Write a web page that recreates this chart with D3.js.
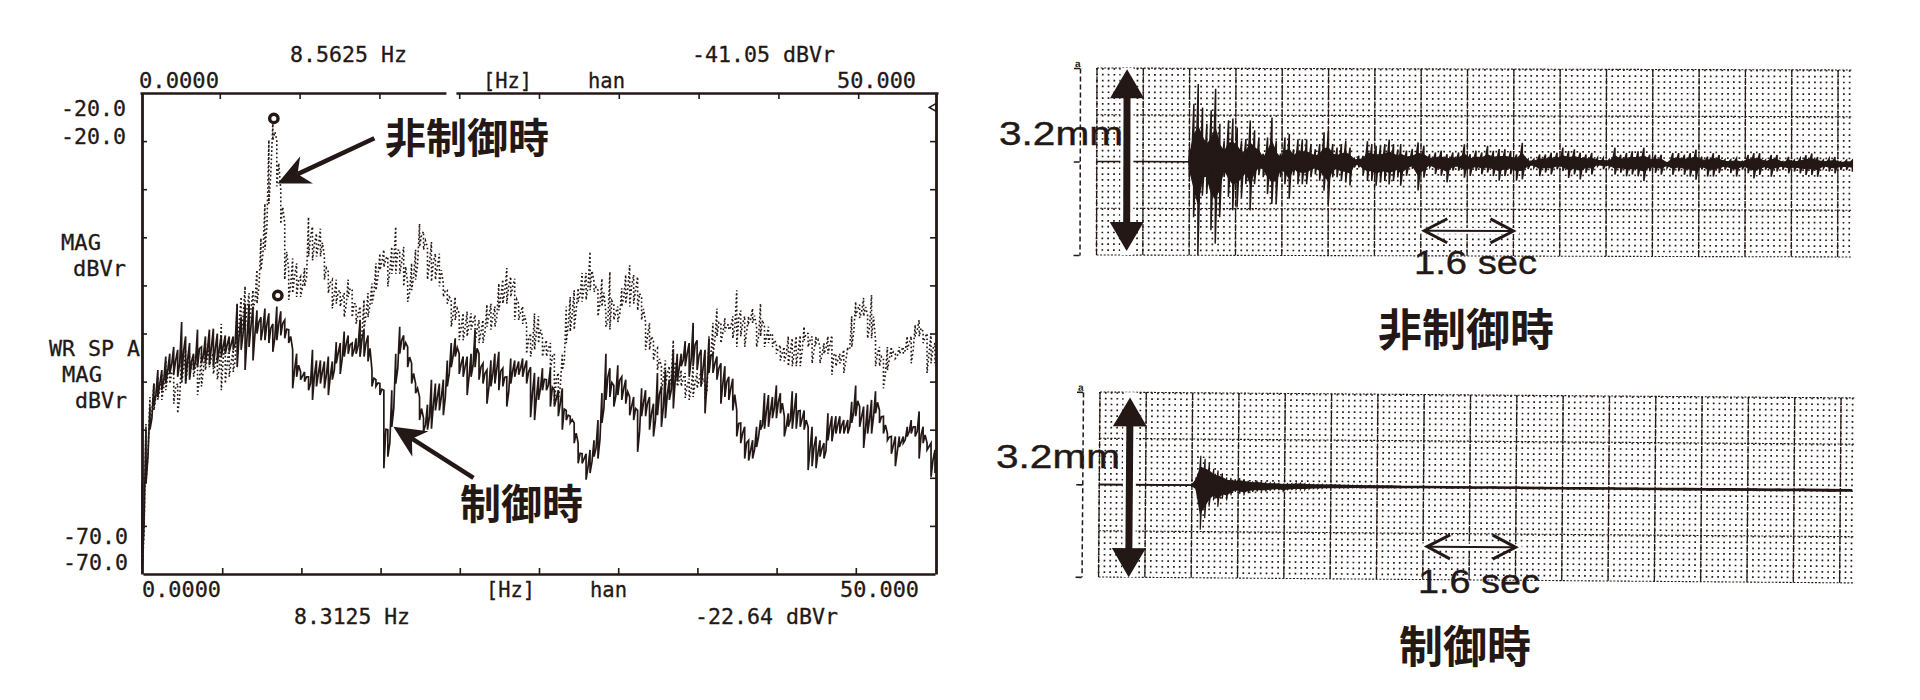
<!DOCTYPE html>
<html><head><meta charset="utf-8">
<script src="https://cdn.jsdelivr.net/npm/d3@7/dist/d3.min.js"></script>
<style>
html,body{margin:0;padding:0;background:#fff;overflow:hidden}
svg{display:block}
.plot{font-family:"DejaVu Sans Mono",monospace;font-size:22px;fill:#231815;stroke:#231815;stroke-width:.3}
.jp{font-family:"Noto Sans CJK JP",sans-serif;font-weight:700;fill:#231815}
.lat{font-family:"Liberation Sans",Arial,sans-serif;fill:#231815;stroke:#231815;stroke-width:.4}
</style></head><body>
<svg id="c" width="1920" height="700"></svg>
<script>
// ---------- spectrum (frequency Hz, magnitude dBVr); columns every 0.25 Hz, high/low per column
const spectrumStepHz = 0.25;
const uncontrolledHigh = [-62,-54.4,-51.6,-50.2,-49.5,-49.2,-47.8,-48.1,-48.8,-50.2,-47.1,-46.7,-47.1,-47.4,-48.1,-47.1,-46.0,-46.4,-47.1,-47.4,-44.0,-46.0,-46.4,-46.7,-41.9,-41.2,-40.1,-40.8,-40.5,-38.4,-35.1,-31.5,-24.9,-23.2,-24.9,-30.1,-33.6,-38.4,-37.2,-37.7,-39.1,-38.2,-32.9,-33.9,-34.6,-34.1,-37.0,-38.6,-39.4,-39.4,-40.5,-40.8,-39.4,-40.5,-41.9,-42.2,-41.5,-40.8,-39.8,-37.7,-36.7,-36.3,-37.0,-36.0,-33.9,-36.3,-36.0,-39.8,-37.7,-36.3,-33.6,-34.4,-36.0,-35.5,-36.7,-36.7,-39.8,-40.5,-41.5,-41.2,-42.9,-42.9,-42.7,-42.9,-43.1,-43.6,-43.6,-42.0,-41.9,-42.2,-39.8,-39.4,-38.2,-39.1,-39.3,-41.9,-42.2,-44.1,-45.0,
-42.9,-43.2,-45.3,-45.7,-46.0,-47.1,-49.1,-47.1,-42.2,-41.2,-40.5,-40.3,-38.7,-38.7,-36.5,-39.6,-40.5,-39.3,-42.9,-38.6,-42.0,-42.2,-40.3,-38.9,-37.9,-38.9,-39.1,-41.3,-43.8,-43.9,-45.7,-46.5,-48.4,-47.8,-48.4,-45.7,-49.1,-48.8,-49.1,-49.7,-48.4,-49.1,-48.8,-50.2,-45.3,-43.9,-42.4,-43.9,-43.4,-44.1,-43.2,-40.5,-42.6,-43.2,-43.2,-42.4,-44.3,-41.9,-44.3,-44.3,-45.0,-46.0,-46.2,-46.4,-45.3,-45.5,-45.3,-45.2,-44.3,-45.0,-45.3,-45.3,-46.4,-46.0,-45.3,-45.2,-47.1,-47.1,-46.7,-46.4,-43.2,-41.7,-42.0,-41.3,-43.1,-41.0,-45.7,-46.4,-47.6,-46.4,-46.4,-47.1,-46.4,-46.4,-45.3,-45.3,-44.1,-43.6,-44.8,-45.0,-45.0,-46.0];
const uncontrolledLow = [-70,-60.6,-54.7,-53.0,-51.9,-51.9,-50.9,-50.2,-52.3,-53.3,-50.2,-50.2,-49.5,-49.5,-51.4,-50.5,-48.8,-48.5,-49.2,-49.8,-50.9,-50.2,-49.5,-49.0,-46.0,-45.3,-44.6,-44.0,-42.6,-41.9,-38.4,-36.3,-31.5,-24.9,-29.7,-33.6,-39.4,-41.5,-40.8,-41.2,-41.2,-40.1,-37.0,-37.4,-37.0,-37.0,-39.4,-40.8,-42.4,-41.9,-42.2,-43.3,-41.2,-43.3,-44.0,-47.4,-44.6,-43.3,-41.9,-40.5,-38.4,-38.1,-40.1,-38.8,-38.8,-38.8,-40.1,-41.7,-40.5,-39.4,-36.0,-36.3,-39.4,-39.6,-39.4,-40.1,-41.2,-41.9,-44.3,-43.6,-45.7,-45.7,-45.3,-44.6,-46.0,-46.0,-46.0,-44.3,-44.6,-44.3,-42.6,-41.9,-41.9,-41.2,-43.6,-43.6,-44.0,-47.1,-47.4,
-46.7,-46.0,-47.4,-47.4,-48.8,-52.3,-51.9,-48.8,-46.0,-44.8,-44.6,-41.7,-41.7,-41.5,-40.5,-40.7,-43.2,-42.2,-44.3,-44.6,-43.6,-43.8,-42.2,-41.9,-42.2,-41.9,-42.6,-43.6,-46.7,-46.7,-47.8,-48.8,-50.9,-50.5,-50.5,-50.2,-50.5,-50.5,-51.7,-51.9,-51.6,-50.7,-50.5,-51.9,-48.8,-47.4,-45.3,-46.0,-44.8,-44.6,-45.5,-46.4,-45.3,-46.4,-43.9,-43.9,-46.4,-45.3,-46.4,-46.0,-46.4,-47.1,-47.8,-47.9,-48.4,-48.4,-48.4,-48.4,-45.7,-46.4,-48.1,-46.0,-48.1,-47.1,-47.1,-49.3,-48.4,-48.1,-49.1,-46.7,-46.4,-43.2,-43.4,-43.2,-45.5,-45.5,-48.4,-48.4,-50.7,-48.8,-47.4,-47.6,-47.1,-47.1,-46.7,-48.1,-45.3,-45.3,-46.0,-49.1,-48.1,-48.1];
const controlledHigh = [-60.6,-55.0,-52.6,-50.2,-48.8,-48.8,-47.4,-47.1,-46.4,-46.7,-43.8,-45.3,-46.0,-47.1,-44.6,-46.4,-45.3,-44.6,-44.5,-45.0,-45.2,-45.2,-45.3,-45.3,-41.9,-43.3,-41.9,-41.9,-42.2,-42.6,-43.3,-42.4,-42.9,-44.0,-42.2,-42.7,-43.6,-44.6,-46.7,-47.1,-49.0,-49.0,-49.5,-46.7,-47.8,-47.8,-47.9,-47.4,-47.9,-45.9,-46.0,-44.8,-45.2,-46.0,-45.5,-43.6,-44.6,-45.2,-48.8,-49.8,-50.2,-50.9,-55.0,-50.9,-47.1,-44.3,-45.2,-46.4,-48.1,-50.2,-51.6,-53.8,-52.4,-49.8,-50.2,-50.2,-49.8,-47.8,-46.0,-45.5,-47.1,-47.4,-47.4,-47.1,-44.6,-47.1,-48.1,-48.8,-47.8,-47.1,-46.9,-48.6,-49.5,-47.6,-47.8,-47.9,-47.6,-47.8,-48.5,
-49.1,-49.5,-48.6,-49.8,-48.6,-50.9,-50.9,-50.7,-53.0,-53.6,-54.3,-56.4,-57.5,-57.5,-57.1,-56.1,-54.0,-51.2,-47.1,-48.6,-50.4,-48.3,-49.5,-49.8,-51.6,-51.6,-53.0,-50.7,-50.9,-51.6,-52.3,-49.1,-50.5,-48.8,-49.8,-46.7,-47.1,-47.1,-45.8,-46.0,-43.9,-45.7,-46.7,-46.7,-45.5,-47.1,-47.4,-48.1,-48.4,-49.5,-49.7,-53.0,-54.3,-54.7,-56.1,-56.1,-54.7,-54.0,-51.2,-51.4,-51.6,-50.4,-51.2,-53.6,-53.3,-51.0,-51.2,-53.0,-53.0,-54.7,-54.7,-55.7,-56.1,-56.4,-53.3,-53.6,-53.6,-53.6,-54.0,-54.0,-52.1,-50.4,-52.6,-52.6,-52.4,-51.9,-51.0,-53.0,-53.6,-55.4,-55.7,-55.7,-55.7,-55.7,-54.7,-54.0,-54.7,-53.1,-54.7,-56.4,-56.4,-57.1];
const controlledLow = [-69.5,-60.6,-55.0,-52.6,-51.6,-50.9,-50.2,-49.2,-49.2,-49.5,-49.8,-50.2,-49.8,-48.8,-48.5,-48.1,-48.1,-48.3,-48.5,-48.1,-47.4,-47.1,-46.9,-46.7,-48.5,-46.7,-48.8,-46.4,-47.8,-45.0,-45.7,-45.7,-46.0,-46.9,-45.7,-45.2,-45.5,-46.0,-50.7,-49.5,-49.8,-50.0,-50.9,-51.9,-50.5,-50.2,-50.7,-51.4,-49.8,-48.1,-49.2,-47.4,-47.1,-47.4,-47.1,-47.4,-47.4,-47.9,-50.5,-50.5,-51.4,-59.0,-57.8,-54.7,-50.2,-47.1,-46.7,-48.5,-50.2,-51.2,-54.0,-55.2,-55.0,-54.9,-53.0,-53.0,-53.5,-50.5,-48.5,-47.4,-49.2,-49.5,-51.4,-49.5,-48.5,-49.8,-50.2,-52.3,-50.5,-50.2,-50.9,-50.5,-52.6,-50.2,-49.5,-49.3,-49.5,-50.2,-53.7,
-54.0,-51.9,-50.9,-50.9,-52.6,-52.6,-53.6,-55.0,-54.0,-54.3,-56.4,-58.5,-58.5,-60.2,-59.5,-57.8,-58.0,-54.3,-51.9,-51.6,-52.6,-51.4,-51.9,-52.3,-53.5,-54.0,-57.3,-53.6,-53.6,-55.0,-55.7,-53.5,-54.7,-53.8,-51.9,-52.8,-50.0,-48.4,-48.4,-49.5,-48.4,-48.8,-50.5,-53.3,-49.1,-49.1,-49.8,-52.3,-51.6,-51.9,-53.0,-55.7,-56.4,-58.0,-58.2,-58.0,-56.8,-55.0,-54.9,-54.7,-53.8,-53.8,-53.3,-55.7,-54.7,-54.9,-54.9,-54.7,-55.0,-59.2,-58.8,-59.0,-57.8,-58.0,-56.1,-56.2,-55.4,-55.4,-55.4,-55.4,-54.3,-53.6,-54.7,-56.9,-55.4,-55.4,-53.3,-54.3,-55.4,-56.1,-57.5,-58.8,-56.8,-56.4,-55.7,-55.4,-55.7,-58.0,-56.4,-57.1,-59.9,-59.5];
const peakMarkers = [{hz:8.3125, db:-22.64},{hz:8.5625, db:-41.05}];
const freqTicks = [5,10,15,20,25,30,35,40,45];
const magTicks = [-25,-30,-35,-40,-45,-50,-55,-60,-65];

// ---------- displacement traces (seconds, mm)
const upperOnsetHigh = [.22,.99,1.33,.93,.65,.88,1.25,.65,.36,.71,.74,.59,.36,.39,.71,.54,.42,.14,.42,.76,.36,.14,.42,.48,.22,.39,.39,.39,.31,.22,.31,.51,.54,.31,.25,.31,.36,.25,.08,.11,.11,.36,.31,.28,.28,.31,.39,.31,.22];
const upperOnsetLow = [-.26,-.95,-1.60,-.58,-.55,-1.17,-1.40,-.95,-.26,-.60,-.83,-.78,-.60,-.38,-.83,-.38,-.21,-.26,-.55,-.72,-.72,-.26,-.38,-.63,-.21,-.38,-.38,-.38,-.26,-.21,-.32,-.49,-.72,-.26,-.26,-.32,-.35,-.40,-.09,-.09,-.23,-.32,-.32,-.40,-.35,-.32,-.38,-.32,-.26];
const upperTailHigh = [.31,.2,.23,.34,.285,.14,.17,.2,.14,.17,.17,.31,.14,.2,.17,.285,.2,.23,.23,.2,.14,.34,.057,.057,.14,.14,.17,.17,.26,.2,.23,.17,.14,.17,.085,.085,.057,.26,.14,.17,.2,.2,.26,.14,.14,.14,0,.17,.17,.14,.17,.23,.11,.11,.17,.14,.057,.057,.085,.03,.14,.17,.17,.057,.14,.14,.03,.11,.057,.085,.14,.17,.11,.057,.085,.11,.03,.057,.057];
const upperTailLow = [-.4,-.23,-.11,-.48,-.26,-.085,-.2,-.23,-.34,-.14,-.14,-.26,-.23,-.14,-.2,-.17,-.23,-.31,-.23,-.2,-.31,-.285,-.11,-.085,-.23,-.17,-.2,-.11,-.14,-.26,-.2,-.285,-.17,-.2,-.057,-.11,-.085,-.2,-.17,-.23,-.2,-.23,-.31,-.14,-.17,-.2,-.085,-.2,-.14,-.2,-.23,-.285,-.11,-.23,-.23,-.17,-.11,-.17,-.23,-.11,-.17,-.26,-.2,-.11,-.23,-.14,-.11,-.17,-.14,-.17,-.2,-.2,-.23,-.085,-.14,-.17,-.11,-.11,-.14];
const lowerOnsetHigh = [.01,.14,.51,.46,.40,.285,.26,.21,.14,.13,.11,.13,.11,.085,.074,.085,.07,.057,.05,.05,.04,.03,.04,.04,.05,.05,.04,.035,.03,.03,.03,.025,.03,.025,.025,.02,.025,.02,.02,.02,.015,.02,.015,.015,.015,.015,.015,.01,.01];
const lowerOnsetLow = [-.01,-.085,-.77,-.57,-.37,-.26,-.37,-.23,-.26,-.17,-.11,-.14,-.17,-.13,-.11,-.1,-.1,-.1,-.085,-.074,-.074,-.1,-.074,-.07,-.06,-.06,-.06,-.05,-.04,-.04,-.035,-.03,-.03,-.025,-.03,-.025,-.025,-.02,-.02,-.02,-.02,-.015,-.02,-.015,-.015,-.015,-.015,-.015,-.01];
const lowerTailHigh = [.012,.012,.012,.01,.012,.01,.012,.01,.01,.012,.01,.01,.012,.012,.015,.015,.012,.015,.015,.012];
const lowerTailLow = [-.012,-.012,-.01,-.012,-.01,-.012,-.01,-.012,-.012,-.01,-.012,-.012,-.012,-.015,-.012,-.015,-.015,-.012,-.015,-.015];

const INK = "#231815";
const svg = d3.select("#c");

// ============= spectrum panel
const xData = d3.scaleLinear().domain([0,50]).range([142,935]);
const xTop = d3.scaleLinear().domain([0,50]).range([140,938]);
const xBot = d3.scaleLinear().domain([0,50]).range([143,935]);
const y = d3.scaleLinear().domain([-20,-70]).range([93,574]);

function styleAxis(g, w){
  g.select(".domain").attr("stroke",INK).attr("stroke-width",w);
  g.selectAll(".tick line").attr("stroke",INK).attr("stroke-width",1.6);
  g.selectAll(".tick text").remove();
}
styleAxis(svg.append("g").attr("transform","translate(0,93)").call(d3.axisTop(xTop).tickValues(freqTicks).tickSize(-6).tickSizeOuter(0)),2.6);
styleAxis(svg.append("g").attr("transform","translate(0,574)").call(d3.axisBottom(xBot).tickValues(freqTicks).tickSize(-6).tickSizeOuter(0)),2.6);
styleAxis(svg.append("g").attr("transform","translate(142,0)").call(d3.axisLeft(y).tickValues(magTicks).tickSize(-5).tickSizeOuter(0)),2.8);
styleAxis(svg.append("g").attr("transform","translate(936,0)").call(d3.axisRight(y).tickValues(magTicks).tickSize(-6).tickSizeOuter(0)),2.8);
svg.append("rect").attr("x",xTop(19.2)).attr("y",y(-20)-3).attr("width",10).attr("height",6).attr("fill","#fff");

function zig(high,low,stepHz){
  const pts=[];
  high.forEach((h,i)=>{
    pts.push([i*stepHz,h]); pts.push([i*stepHz,low[i]]);
    pts.push([i*stepHz+stepHz/2,(h+low[i])/2]);
  });
  return pts;
}
const specLine = d3.line().x(d=>xData(d[0])).y(d=>y(d[1]));
svg.append("path").attr("d",specLine(zig(uncontrolledHigh,uncontrolledLow,spectrumStepHz)))
  .attr("fill","none").attr("stroke",INK).attr("stroke-width",1.6).attr("stroke-dasharray","1.7 2.4");
svg.append("path").attr("d",specLine(zig(controlledHigh,controlledLow,spectrumStepHz)))
  .attr("fill","none").attr("stroke",INK).attr("stroke-width",1.7);

svg.selectAll(".peak").data(peakMarkers).join("circle").attr("class","peak")
  .attr("cx",d=>xData(d.hz)).attr("cy",d=>y(d.db)).attr("r",4.2)
  .attr("fill","#fff").attr("stroke",INK).attr("stroke-width",3.4);

const triMark = d3.symbol().type(d3.symbolTriangle).size(28);
svg.append("path").attr("d",triMark()).attr("transform",`translate(${xData(50)-1},${y(-21.5)}) rotate(-90)`).attr("fill","none").attr("stroke",INK).attr("stroke-width",1.6);

const plotTexts = [
 ["8.5625 Hz",290,62,117],["-41.05 dBVr",692,62,143],["0.0000",139,88,80],["[Hz]",483,88,49],["han",588,88,37],["50.000",837,88,79],
 ["-20.0",61,116,65],["-20.0",61,144,65],["MAG",61,250,40],["dBVr",73,276,53],["WR SP A",49,356,91],["MAG",62,382,40],["dBVr",75,408,52],
 ["-70.0",63,544,65],["-70.0",63,570,65],
 ["0.0000",142,597,79],["[Hz]",486,597,49],["han",590,597,37],["50.000",840,597,79],["8.3125 Hz",294,624,116],["-22.64 dBVr",695,624,143]
];
svg.append("g").attr("class","plot").selectAll("text").data(plotTexts).join("text")
  .attr("x",d=>d[1]).attr("y",d=>d[2]).attr("textLength",d=>d[3]).attr("lengthAdjust","spacingAndGlyphs").text(d=>d[0]);

function bigArrow(g,x0,y0,x1,y1,w,hl,hw,notch){
  const a=Math.atan2(y1-y0,x1-x0),c=Math.cos(a),s=Math.sin(a);
  const P=(l,o)=>[x1-l*c-o*s,y1-l*s+o*c];
  g.append("line").attr("x1",x0).attr("y1",y0).attr("x2",P(notch,0)[0]).attr("y2",P(notch,0)[1]).attr("stroke",INK).attr("stroke-width",w);
  g.append("path").attr("d",d3.line()([[x1,y1],P(hl,hw),P(notch,0),P(hl,-hw)])+"Z").attr("fill",INK);
}
bigArrow(svg,xData(14.65),y(-24.7),xData(8.55),y(-29.4),4.5,32,15,22);
bigArrow(svg,xData(20.9),y(-60),xData(15.85),y(-54.7),4.5,32,15,22);

const jp=[["非制御時",385,153,41],["制御時",460,519,41],["非制御時",1378,346,44],["制御時",1399,663,44]];
svg.selectAll(".jp").data(jp).join("text").attr("class","jp").attr("x",d=>d[1]).attr("y",d=>d[2]).attr("font-size",d=>d[3]).text(d=>d[0]);

// ============= strip charts
function strip(cfg){
  const g=svg.append("g").attr("transform",`rotate(${cfg.rot} ${cfg.left} ${cfg.top})`);
  const tMax=13.04;
  const xT=d3.scaleLinear().domain([0,tMax]).range([cfg.left,cfg.left+755]);
  const yA=d3.scaleLinear().domain([1.6,-1.6]).range([cfg.top,cfg.top+cfg.h]);
  const rowAbs=Math.abs(yA(0)-yA(0.1));
  // minor dots
  g.append("g").selectAll("line").data(d3.range(0,tMax,0.1)).join("line")
    .attr("x1",d=>xT(d)).attr("x2",d=>xT(d)).attr("y1",yA(1.6)).attr("y2",yA(-1.6))
    .attr("stroke",INK).attr("stroke-width",1.7).attr("stroke-dasharray",`1.7 ${rowAbs-1.7}`);
  // major verticals
  g.append("g").selectAll("line").data(d3.range(0,tMax+.01,0.8)).join("line")
    .attr("x1",d=>xT(d)).attr("x2",d=>xT(d)).attr("y1",yA(1.6)).attr("y2",yA(-1.6))
    .attr("stroke",INK).attr("stroke-width",1.3).attr("stroke-dasharray","7 1.2");
  // major horizontals
  g.append("g").selectAll("line").data([1.6,.8,-.8,-1.6]).join("line")
    .attr("x1",xT(0)).attr("x2",xT(tMax)).attr("y1",d=>yA(d)).attr("y2",d=>yA(d))
    .attr("stroke",INK).attr("stroke-width",1.1).attr("stroke-dasharray","2 1.6");
  // dashed side scale
  const ax=g.append("g").attr("transform",`translate(${cfg.left-17},0)`).call(d3.axisLeft(yA).tickValues([1.6,0,-1.6]).tickSize(6).tickSizeOuter(0).tickFormat(""));
  ax.select(".domain").attr("stroke",INK).attr("stroke-width",1.5).attr("stroke-dasharray","5 3");
  ax.selectAll(".tick line").attr("stroke",INK).attr("stroke-width",1.6);
  g.append("text").attr("x",cfg.left-22).attr("y",yA(1.6)-1).attr("font-size",10).attr("font-weight",700).attr("font-family","Liberation Sans").attr("fill",INK).text("a");

  // trace
  const cols=[[0,0,0],[cfg.onsetT-.01,0,0]];
  cfg.onsetHigh.forEach((h,i)=>cols.push([cfg.onsetT+i*cfg.onsetStep,h,cfg.onsetLow[i]]));
  cfg.tailHigh.forEach((h,i)=>cols.push([cfg.tailT+i*cfg.tailStep,h,cfg.tailLow[i]]));
  const core=d3.area().x(d=>xT(d[0])).y0(d=>yA(d[2]*cfg.core)).y1(d=>yA(d[1]*cfg.core));
  g.append("path").attr("d",core(cols)).attr("fill",INK).attr("stroke",INK).attr("stroke-width",cfg.coreStroke);
  const zz=[];
  cols.forEach((c,i)=>{
    zz.push([c[0],c[1]]);zz.push([c[0],c[2]]);
    const n=cols[i+1];
    if(n) zz.push([(c[0]+n[0])/2,0]);
  });
  g.append("path").attr("d",d3.line().x(d=>xT(d[0])).y(d=>yA(d[1]))(zz)).attr("fill","none").attr("stroke",INK).attr("stroke-width",cfg.stroke);

  // 3.2 mm arrow
  const ta=0.52;
  g.append("line").attr("x1",xT(ta)).attr("x2",xT(ta)).attr("y1",yA(1.6)).attr("y2",yA(-1.6)).attr("stroke","#fff").attr("stroke-width",13);
  const arTop=yA(cfg.arrowHi), arBot=yA(cfg.arrowLo), ax0=xT(ta);
  g.append("line").attr("x1",ax0).attr("x2",ax0).attr("y1",arTop+10).attr("y2",arBot-10).attr("stroke",INK).attr("stroke-width",7);
  g.append("path").attr("d",d3.line()([[ax0,arTop],[ax0+17,arTop+29],[ax0-17,arTop+29]])+"Z").attr("fill",INK);
  g.append("path").attr("d",d3.line()([[ax0,arBot],[ax0+17,arBot-29],[ax0-17,arBot-29]])+"Z").attr("fill",INK);

  // 1.6 sec arrow
  const x0=xT(cfg.secT0),x1=xT(cfg.secT1),yy=yA(cfg.secAmp);
  g.append("line").attr("x1",x0-6).attr("x2",x1+6).attr("y1",yy).attr("y2",yy).attr("stroke","#fff").attr("stroke-width",6);
  g.append("line").attr("x1",x0+3).attr("x2",x1-3).attr("y1",yy).attr("y2",yy).attr("stroke",INK).attr("stroke-width",2);
  [[x0,1],[x1,-1]].forEach(([xx,dir])=>{
    g.append("path").attr("d",d3.line()([[xx+dir*23,yy-12],[xx,yy],[xx+dir*23,yy+12]])).attr("fill","none").attr("stroke",INK).attr("stroke-width",3);
  });
}
strip({rot:.15,left:1097,top:68,h:187,onsetT:1.6,onsetStep:.075,tailT:5.25,tailStep:.1,
  onsetHigh:upperOnsetHigh,onsetLow:upperOnsetLow,tailHigh:upperTailHigh,tailLow:upperTailLow,
  core:.45,coreStroke:1.2,stroke:1.5,arrowHi:1.58,arrowLo:-1.53,secT0:5.66,secT1:7.2,secAmp:-1.17});
strip({rot:.45,left:1100,top:392,h:185,onsetT:1.6,onsetStep:.075,tailT:5.2,tailStep:.41,
  onsetHigh:lowerOnsetHigh,onsetLow:lowerOnsetLow,tailHigh:lowerTailHigh,tailLow:lowerTailLow,
  core:.6,coreStroke:1.8,stroke:1.2,arrowHi:1.51,arrowLo:-1.6,secT0:5.67,secT1:7.2,secAmp:-1.03});

const lat=[["3.2mm",999,145,124],["1.6 sec",1414,274,123],["3.2mm",996,468,124],["1.6 sec",1418,593,122]];
svg.selectAll(".lat").data(lat).join("text").attr("class","lat").attr("x",d=>d[1]).attr("y",d=>d[2]).attr("font-size",33)
  .attr("textLength",d=>d[3]).attr("lengthAdjust","spacingAndGlyphs").text(d=>d[0]);
</script></body></html>
